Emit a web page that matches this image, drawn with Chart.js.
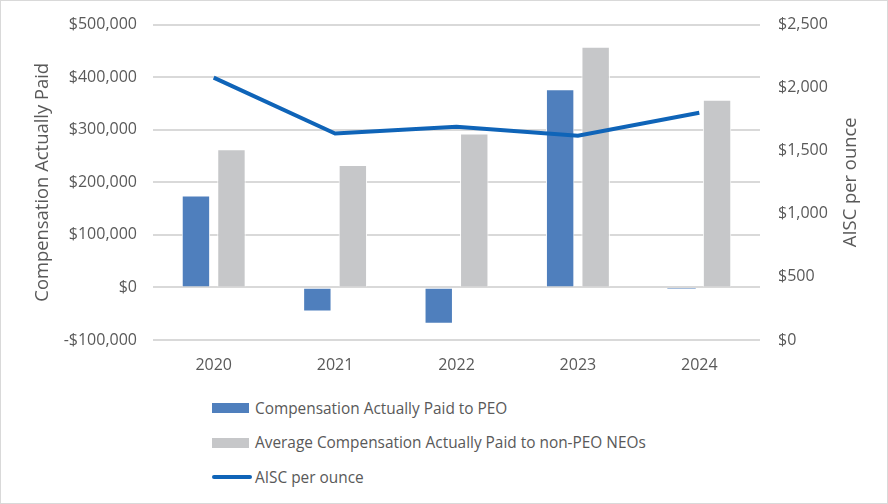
<!DOCTYPE html>
<html>
<head>
<meta charset="utf-8">
<script src="https://cdn.jsdelivr.net/npm/chart.js@4/dist/chart.umd.min.js"></script>
<style>
    html, body { margin: 0; padding: 0; background: #fff; }
    #wrap {
        width: 888px; height: 504px; box-sizing: border-box;
        border: 1px solid #d9d9d9; position: relative; overflow: hidden;
        font-family: 'Open Sans', sans-serif; color: #595959;
    }
    #chart-box { position: absolute; left: 0; top: -4px; width: 886px; height: 394px; }
    #legend { position: absolute; left: 211px; top: 390px; }
    .legend-item { display: flex; align-items: center; height: 34.5px; font-size: 15.4px; }
    .legend-swatch { width: 37px; height: 10px; margin-right: 6px; }
    .legend-line { width: 40px; height: 4px; border-radius: 2px; margin-right: 3px; }
</style>
</head>
<body>
<div id="wrap">
    <div id="chart-box"><canvas id="chart"></canvas></div>
    <div id="legend"></div>
</div>
<script>
const years = ['2020', '2021', '2022', '2023', '2024'];
const capPeo = [175000, -46000, -69000, 377000, -3000];
const capNonPeo = [263000, 233000, 293000, 458000, 357000];
const aiscPerOunce = [2080, 1637, 1690, 1619, 1801];

const seriesNames = [
    'Compensation Actually Paid to PEO',
    'Average Compensation Actually Paid to non-PEO NEOs',
    'AISC per ounce'
];

const textColor = '#595959';
const gridColor = '#d9d9d9';

const money = v => (v < 0 ? '-$' : '$') + Math.abs(v).toLocaleString('en-US');

// thin white edge on bars, but none on tiny bars so they stay visible
const barEdge = ctx => Math.abs(ctx.raw) < 10000 ? 0 : 1;

// Chart.js turns right-hand titles clockwise; the original reads bottom-up,
// so the right title is drawn here instead
const rightTitle = {
    id: 'rightTitle',
    afterDraw(c) {
        const s = c.scales.y1;
        const ctx = c.ctx;
        ctx.save();
        ctx.translate(s.right - 36, (s.top + s.bottom) / 2);
        ctx.rotate(-Math.PI / 2);
        ctx.font = '18.4px "Open Sans"';
        ctx.fillStyle = textColor;
        ctx.textAlign = 'center';
        ctx.textBaseline = 'middle';
        ctx.fillText('AISC per ounce', 0, 0);
        ctx.restore();
    }
};

const chart = new Chart(document.getElementById('chart'), {
    type: 'bar',
    data: {
        labels: years,
        datasets: [
            {
                label: seriesNames[0],
                data: capPeo,
                backgroundColor: '#4f7fbd',
                borderColor: '#ffffff',
                borderWidth: barEdge,
                yAxisID: 'y',
                order: 2,
                categoryPercentage: 0.585,
                barPercentage: 0.8
            },
            {
                label: seriesNames[1],
                data: capNonPeo,
                backgroundColor: '#c6c7c9',
                borderColor: '#ffffff',
                borderWidth: barEdge,
                yAxisID: 'y',
                order: 2,
                categoryPercentage: 0.585,
                barPercentage: 0.8
            },
            {
                type: 'line',
                label: seriesNames[2],
                data: aiscPerOunce,
                borderColor: '#0f64b8',
                borderWidth: 4,
                pointRadius: 0,
                tension: 0,
                yAxisID: 'y1',
                order: 1
            }
        ]
    },
    options: {
        responsive: true,
        maintainAspectRatio: false,
        animation: false,
        layout: { padding: { top: 9, left: 0, right: 0, bottom: 0 } },
        plugins: {
            legend: { display: false },
            tooltip: { enabled: false }
        },
        scales: {
            x: {
                grid: { display: false, drawTicks: false },
                border: { display: false },
                ticks: { color: textColor, font: { family: 'Open Sans', size: 16 }, padding: 16 },
                afterFit: s => { s.height = 51; }
            },
            y: {
                position: 'left',
                min: -100000,
                max: 500000,
                grid: { color: gridColor, lineWidth: 2, drawTicks: false },
                border: { display: false },
                ticks: {
                    stepSize: 100000,
                    color: textColor,
                    font: { family: 'Open Sans', size: 16 },
                    padding: 16,
                    callback: v => money(v)
                },
                title: {
                    display: true,
                    text: 'Compensation Actually Paid',
                    color: textColor,
                    font: { family: 'Open Sans', size: 18.4 },
                    padding: { top: 31, bottom: 0 }
                },
                afterFit: s => { s.width = 152; }
            },
            y1: {
                position: 'right',
                min: 0,
                max: 2500,
                grid: { display: false, drawTicks: false },
                border: { display: false },
                ticks: {
                    stepSize: 500,
                    color: textColor,
                    font: { family: 'Open Sans', size: 16 },
                    padding: 18,
                    callback: v => money(v)
                },
                afterFit: s => { s.width = 127; }
            }
        }
    },
    plugins: [rightTitle]
});

// legend below the chart, stacked like the original
const legendEl = document.getElementById('legend');
chart.data.datasets.forEach(ds => {
    const item = document.createElement('div');
    item.className = 'legend-item';
    const mark = document.createElement('span');
    if (ds.type === 'line') {
        mark.className = 'legend-line';
        mark.style.background = ds.borderColor;
    } else {
        mark.className = 'legend-swatch';
        mark.style.background = ds.backgroundColor;
    }
    item.appendChild(mark);
    item.appendChild(document.createTextNode(ds.label));
    legendEl.appendChild(item);
});
</script>
</body>
</html>
